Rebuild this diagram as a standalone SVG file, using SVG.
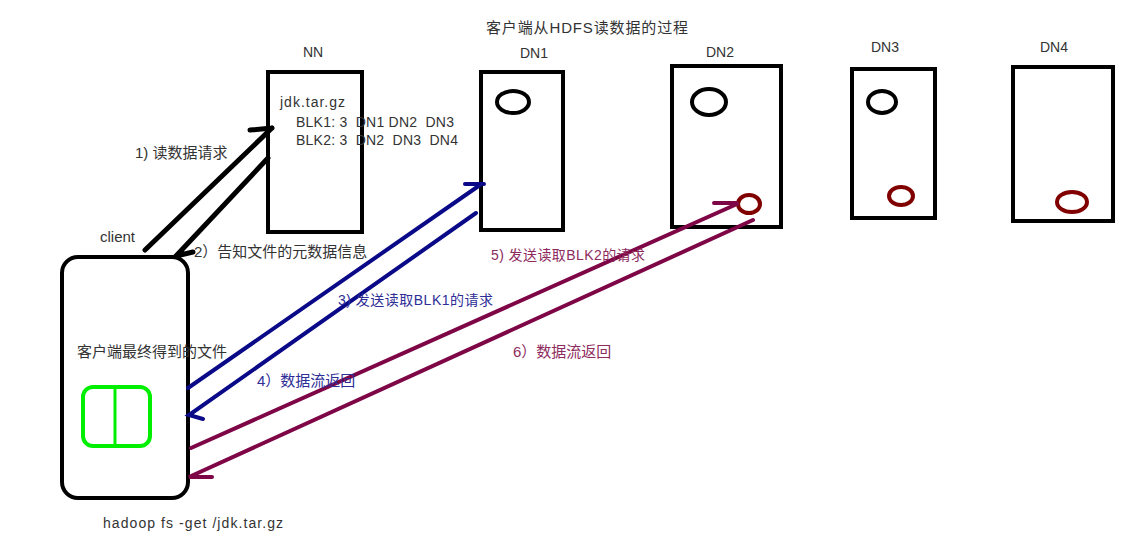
<svg xmlns="http://www.w3.org/2000/svg" width="1140" height="549" viewBox="0 0 1140 549">
<style>
text{font-family:"Liberation Sans","Noto Sans CJK SC",sans-serif;font-size:14px;fill:#333}
text.s15{font-size:15px}
.box{fill:#fff;stroke:#000;stroke-width:4}
.blk{fill:none;stroke:#000;stroke-width:4}
.red{fill:none;stroke:#800000;stroke-width:4}
.k{stroke:#000;stroke-width:5;stroke-linecap:round;fill:none}
.b{stroke:#0a0a88;stroke-width:4;stroke-linecap:round;fill:none}
.p{stroke:#7e0646;stroke-width:4;stroke-linecap:round;fill:none}
text.tb{fill:#2e2e96}
text.tp{fill:#8e2b5e}
</style>
<rect width="1140" height="549" fill="#fff"/>
<text class="s15" x="486" y="33" textLength="202">客户端从HDFS读数据的过程</text>

<g id="nn">
<text x="313" y="57" text-anchor="middle">NN</text>
<rect class="box" x="268" y="72" width="94" height="160"/>
<text x="280" y="107" textLength="65">jdk.tar.gz</text>
<text x="296" y="127" xml:space="preserve" textLength="158">BLK1: 3  DN1 DN2  DN3</text>
<text x="296" y="145" xml:space="preserve" textLength="162">BLK2: 3  DN2  DN3  DN4</text>
</g>

<g id="dn1">
<text x="534" y="58" text-anchor="middle">DN1</text>
<rect class="box" x="481" y="72" width="82" height="158"/>
<ellipse class="blk" cx="513" cy="102" rx="16" ry="11"/>
</g>

<g id="dn2">
<text x="720" y="57" text-anchor="middle">DN2</text>
<rect class="box" x="672" y="66" width="109" height="161"/>
<ellipse class="blk" cx="709" cy="102" rx="17" ry="13"/>
<ellipse class="red" cx="749" cy="204" rx="11" ry="9"/>
</g>

<g id="dn3">
<text x="885" y="52" text-anchor="middle">DN3</text>
<rect class="box" x="852" y="69" width="83" height="149"/>
<ellipse class="blk" cx="882" cy="102" rx="14" ry="11"/>
<ellipse class="red" cx="901" cy="196" rx="12" ry="9"/>
</g>

<g id="dn4">
<text x="1054" y="52" text-anchor="middle">DN4</text>
<rect class="box" x="1013" y="67" width="100" height="154"/>
<ellipse class="red" cx="1072" cy="202" rx="15" ry="10"/>
</g>

<g id="client">
<text class="s15" x="100" y="242">client</text>
<rect class="box" x="62" y="257" width="126" height="241" rx="16"/>
<text class="s15" x="77" y="357">客户端最终得到的文件</text>
<rect x="83" y="387" width="67" height="59" rx="10" fill="none" stroke="#00ee00" stroke-width="4"/>
<line x1="115" y1="387" x2="115" y2="446" stroke="#00ee00" stroke-width="3"/>
<text x="103" y="528" textLength="180">hadoop fs -get /jdk.tar.gz</text>
</g>

<g id="connectors">
<path class="k" d="M145 250 L272 128 M250 130 L272 128"/>
<path class="k" d="M268 158 L176 256 M176 256 L193 252"/>
<path class="b" d="M188 388 L480 185 M465 184 L484 184"/>
<path class="b" d="M476 213 L189 415 L203 419"/>
<path class="p" d="M191 448 L737 204 M714 203 L737 203"/>
<path class="p" d="M753 220 L189 477 L212 477"/>
</g>

<g id="labels">
<text class="s15" x="135" y="158">1) 读数据请求</text>
<text class="s15" x="194" y="257">2）告知文件的元数据信息</text>
<text class="tb" x="338" y="305" textLength="155">3) 发送读取BLK1的请求</text>
<text class="tb s15" x="257" y="386">4）数据流返回</text>
<text class="tp" x="491" y="260" textLength="154">5) 发送读取BLK2的请求</text>
<text class="tp s15" x="513" y="357">6）数据流返回</text>
</g>
</svg>
